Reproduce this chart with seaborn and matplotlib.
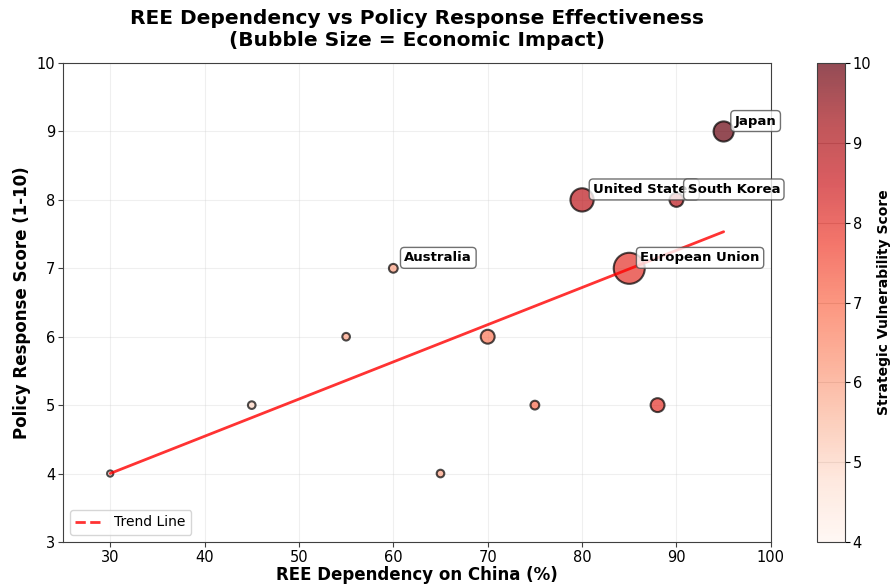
import numpy as np
import pandas as pd
import seaborn as sns
import matplotlib.pyplot as plt
from matplotlib.colors import Normalize
from matplotlib.cm import ScalarMappable
from matplotlib.lines import Line2D

# data (labelled countries first, unlabelled ones after)
countries = ['United States', 'Japan', 'European Union', 'South Korea', 'Australia',
             '', '', '', '', '', '', '']
dependency = [80, 95, 85, 90, 60, 30, 88, 45, 75, 55, 70, 65]   # % on China
policy_score = [8, 9, 7, 8, 7, 4, 5, 5, 5, 6, 6, 4]
vulnerability = [8.8, 10, 8, 8.8, 6, 4.5, 8, 5, 7, 6, 6.8, 6]
economic_impact = [28, 21, 50, 10, 4, 2, 10, 3, 4, 3, 10, 3]

df = pd.DataFrame({'dependency': dependency, 'policy': policy_score,
                   'vuln': vulnerability, 'impact': economic_impact, 'country': countries})

sns.set_style('whitegrid')
plt.rcParams['font.family'] = ['DejaVu Sans']
plt.rcParams.update({'text.color': 'black', 'axes.labelcolor': 'black',
                     'xtick.color': 'black', 'ytick.color': 'black'})

fig = plt.figure(figsize=(8.96, 5.84), dpi=100)
ax = fig.add_axes([0.0703, 0.072, 0.790, 0.820])
cax = fig.add_axes([0.912, 0.072, 0.031, 0.820])
norm = Normalize(vmin=4, vmax=10)

sns.scatterplot(data=df, x='dependency', y='policy', hue='vuln', palette='Reds', hue_norm=norm,
                s=df['impact'] * 10, alpha=0.7, edgecolor='black', linewidth=1.5,
                legend=False, ax=ax, zorder=3)

# trend line - in the original the dashes overlap into a solid stroke, legend keeps the dash
z = np.polyfit(df['dependency'], df['policy'], 1)
p = np.poly1d(z)
xs = np.sort(df['dependency'].values)
ax.plot(xs, p(xs), '-', color='red', alpha=0.8, linewidth=2, zorder=4)
trend_handle = Line2D([], [], color='red', linestyle='--', alpha=0.8, linewidth=2)

for _, row in df.iterrows():
    if row['country']:
        ax.annotate(row['country'], (row['dependency'], row['policy']), xytext=(8, 5),
                    textcoords='offset points', fontsize=9.5, fontweight='bold', zorder=5,
                    bbox=dict(boxstyle='round,pad=0.3', facecolor='white', edgecolor='0.3', alpha=0.8))

ax.set_xlim(25, 100)
ax.set_ylim(3, 10)
ax.set_xlabel('REE Dependency on China (%)', fontsize=12, fontweight='bold', labelpad=1)
ax.set_ylabel('Policy Response Score (1-10)', fontsize=12, fontweight='bold')
ax.set_title('REE Dependency vs Policy Response Effectiveness\n(Bubble Size = Economic Impact)',
             fontsize=14.5, fontweight='bold', pad=12)
ax.grid(True, alpha=0.3)
for s in ax.spines.values():
    s.set_color('0.25')
ax.tick_params(axis='both', which='both', length=3.5, pad=2, color='0.25', labelsize=10.5,
               left=True, bottom=True)
ax.legend([trend_handle], ['Trend Line'], loc='lower left', frameon=True, fontsize=10)

sm = ScalarMappable(norm=norm, cmap='Reds')
cbar = fig.colorbar(sm, cax=cax, alpha=0.7)
cbar.set_label('Strategic Vulnerability Score', fontsize=10, fontweight='bold')
cbar.ax.tick_params(labelsize=10.5, length=3.5, pad=2)
cbar.outline.set_edgecolor('0.25')

plt.savefig('out.png', dpi=100)
